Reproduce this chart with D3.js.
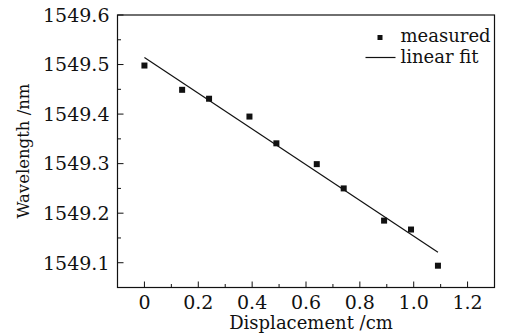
<html>
<head>
<style>
  body { margin: 0; background: #fff; }
  text { font-family: "DejaVu Serif", serif; fill: #111; }
</style>
</head>
<body>
<script src="https://d3js.org/d3.v7.min.js"></script>
<script>
var width = 509, height = 336;
var margin = {left: 117.5, right: 14.5, top: 15, bottom: 48.5};

// measured points
var displacement = [0, 0.14, 0.24, 0.39, 0.49, 0.64, 0.74, 0.89, 0.99, 1.09];
var wavelength = [1549.498, 1549.449, 1549.431, 1549.395, 1549.341, 1549.299, 1549.250, 1549.185, 1549.167, 1549.094];
// linear fit end points
var fitX = [0, 1.09];
var fitY = [1549.514, 1549.121];

var xTicks = [0, 0.2, 0.4, 0.6, 0.8, 1.0, 1.2];
var yTicks = [1549.1, 1549.2, 1549.3, 1549.4, 1549.5, 1549.6];

var svg = d3.select("body").append("svg")
    .attr("width", width)
    .attr("height", height);

var x = d3.scaleLinear().domain([-0.1, 1.3]).range([margin.left, width - margin.right]);
var y = d3.scaleLinear().domain([1549.05, 1549.6]).range([height - margin.bottom, margin.top]);

var x0 = x.range()[0], x1 = x.range()[1], y0 = y.range()[0], y1 = y.range()[1];

// frame
svg.append("rect")
    .attr("x", x0).attr("y", y1)
    .attr("width", x1 - x0).attr("height", y0 - y1)
    .attr("fill", "none").attr("stroke", "#111").attr("stroke-width", 1.2);

// x ticks (inward)
var xMinor = d3.range(0, 13).map(function(i) { return i / 10; });
svg.selectAll(".xt").data(xMinor).enter().append("line")
    .attr("x1", function(d) { return x(d); }).attr("x2", function(d) { return x(d); })
    .attr("y1", y0).attr("y2", function(d, i) { return i % 2 == 0 ? y0 - 6 : y0 - 3.5; })
    .attr("stroke", "#111").attr("stroke-width", 1);
svg.selectAll(".xl").data(xTicks).enter().append("text")
    .attr("x", function(d) { return x(d); })
    .attr("y", 309)
    .attr("text-anchor", "middle")
    .style("font-size", "19px")
    .text(function(d) { return d == 0 ? "0" : d3.format(".1f")(d); });

// y ticks (inward)
var yMinor = d3.range(0, 11).map(function(i) { return 1549.1 + i * 0.05; });
svg.selectAll(".yt").data(yMinor).enter().append("line")
    .attr("y1", function(d) { return y(d); }).attr("y2", function(d) { return y(d); })
    .attr("x1", x0).attr("x2", function(d, i) { return i % 2 == 0 ? x0 + 6 : x0 + 3.5; })
    .attr("stroke", "#111").attr("stroke-width", 1);
svg.selectAll(".yl").data(yTicks).enter().append("text")
    .attr("x", x0 - 8)
    .attr("y", function(d) { return y(d); })
    .attr("dy", "0.36em")
    .attr("text-anchor", "end")
    .style("font-size", "19px")
    .text(function(d) { return d3.format(".1f")(d); });

// axis titles
svg.append("text")
    .attr("x", 311).attr("y", 329)
    .attr("text-anchor", "middle")
    .style("font-size", "18px")
    .text("Displacement /cm");
svg.append("text")
    .attr("transform", "translate(29,151) rotate(-90)")
    .attr("text-anchor", "middle")
    .style("font-size", "16.5px")
    .text("Wavelength /nm");

// fit line
svg.append("line")
    .attr("x1", x(fitX[0])).attr("y1", y(fitY[0]))
    .attr("x2", x(fitX[1])).attr("y2", y(fitY[1]))
    .attr("stroke", "#111").attr("stroke-width", 1.2);

// points
var pts = displacement.map(function(d, i) { return {x: d, y: wavelength[i]}; });
svg.selectAll(".pt").data(pts).enter().append("rect")
    .attr("x", function(d) { return x(d.x) - 3; })
    .attr("y", function(d) { return y(d.y) - 3; })
    .attr("width", 6).attr("height", 6)
    .attr("fill", "#111");

// legend
svg.append("rect").attr("x", 377.5).attr("y", 35).attr("width", 5).attr("height", 5).attr("fill", "#111");
svg.append("text").attr("x", 400.5).attr("y", 41.5).style("font-size", "18px").text("measured");
svg.append("line").attr("x1", 365.5).attr("x2", 395.5).attr("y1", 57.5).attr("y2", 57.5)
    .attr("stroke", "#111").attr("stroke-width", 1.2);
svg.append("text").attr("x", 400.5).attr("y", 62.5).style("font-size", "18px").text("linear fit");
</script>
</body>
</html>
